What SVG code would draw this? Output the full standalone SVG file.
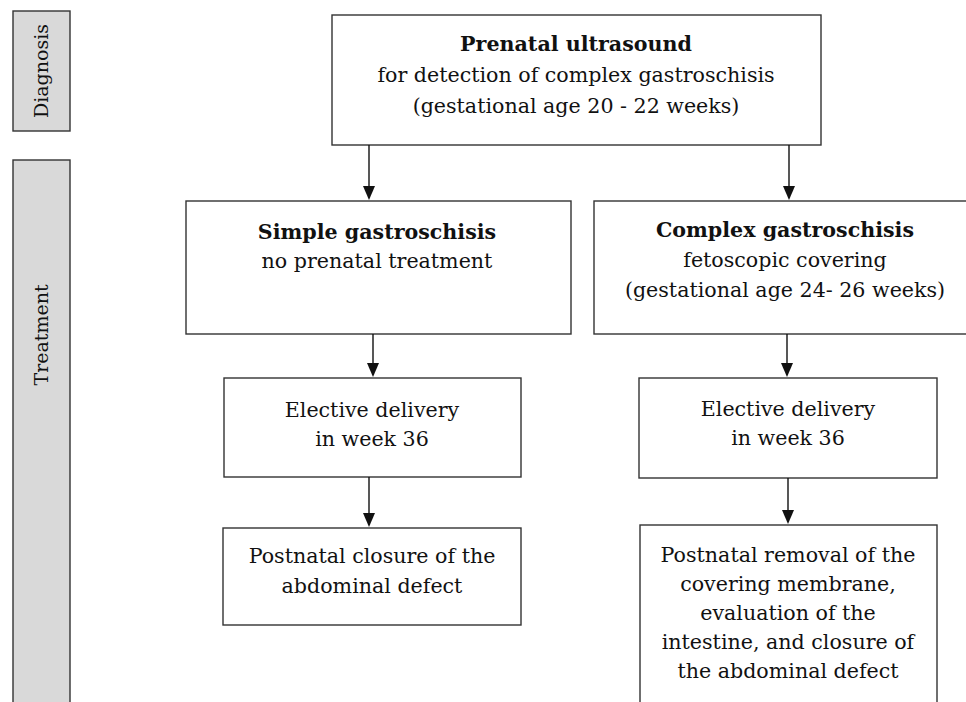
<svg xmlns="http://www.w3.org/2000/svg" width="966" height="702" viewBox="0 0 966 702">
<style>
.box{fill:#fff;stroke:#333;stroke-width:1.4}
.lab{fill:#d9d9d9;stroke:#333;stroke-width:1.4}
text{font-family:"DejaVu Serif","Liberation Serif",serif;font-size:20.6px;fill:#111;text-anchor:middle}
.side{font-size:19px}
.b{font-weight:bold}
.ln{stroke:#111;stroke-width:1.4;fill:none}
.hd{fill:#111}
</style>
<rect width="966" height="702" fill="#fff"/>
<g id="diagnosis">
<rect class="lab" x="13" y="11" width="57" height="120"/>
<text class="side" transform="translate(48,71) rotate(-90)">Diagnosis</text>
</g>
<g id="treatment">
<rect class="lab" x="13" y="160" width="57" height="560"/>
<text class="side" transform="translate(48,335) rotate(-90)">Treatment</text>
</g>
<g id="ultrasound">
<rect class="box" x="332" y="15" width="489" height="130"/>
<text x="576" y="51" class="b">Prenatal ultrasound</text>
<text x="576" y="82">for detection of complex gastroschisis</text>
<text x="576" y="113">(gestational age 20 - 22 weeks)</text>
</g>
<g id="simple">
<rect class="box" x="186" y="201" width="385" height="133"/>
<text x="377" y="239" class="b">Simple gastroschisis</text>
<text x="377" y="268">no prenatal treatment</text>
</g>
<g id="complex">
<rect class="box" x="594" y="201" width="390" height="133"/>
<text x="785" y="237" class="b">Complex gastroschisis</text>
<text x="785" y="267">fetoscopic covering</text>
<text x="785" y="297">(gestational age 24- 26 weeks)</text>
</g>
<g id="elective-left">
<rect class="box" x="224" y="378" width="297" height="99"/>
<text x="372" y="417">Elective delivery</text>
<text x="372" y="446">in week 36</text>
</g>
<g id="elective-right">
<rect class="box" x="639" y="378" width="298" height="100"/>
<text x="788" y="416">Elective delivery</text>
<text x="788" y="445">in week 36</text>
</g>
<g id="postnatal-left">
<rect class="box" x="223" y="528" width="298" height="97"/>
<text x="372" y="563">Postnatal closure of the</text>
<text x="372" y="593">abdominal defect</text>
</g>
<g id="postnatal-right">
<rect class="box" x="640" y="525" width="297" height="200"/>
<text x="788" y="562">Postnatal removal of the</text>
<text x="788" y="591">covering membrane,</text>
<text x="788" y="620">evaluation of the</text>
<text x="788" y="649">intestine, and closure of</text>
<text x="788" y="678">the abdominal defect</text>
</g>
<g id="connectors">
<path class="ln" d="M369,145 V190"/>
<path class="hd" d="M363,186 L375,186 L369,200 Z"/>
<path class="ln" d="M789,145 V190"/>
<path class="hd" d="M783,186 L795,186 L789,200 Z"/>
<path class="ln" d="M373,334 V367"/>
<path class="hd" d="M367,363 L379,363 L373,377 Z"/>
<path class="ln" d="M787,334 V367"/>
<path class="hd" d="M781,363 L793,363 L787,377 Z"/>
<path class="ln" d="M369,477 V517"/>
<path class="hd" d="M363,513 L375,513 L369,527 Z"/>
<path class="ln" d="M788,478 V514"/>
<path class="hd" d="M782,510 L794,510 L788,524 Z"/>
</g>
</svg>
